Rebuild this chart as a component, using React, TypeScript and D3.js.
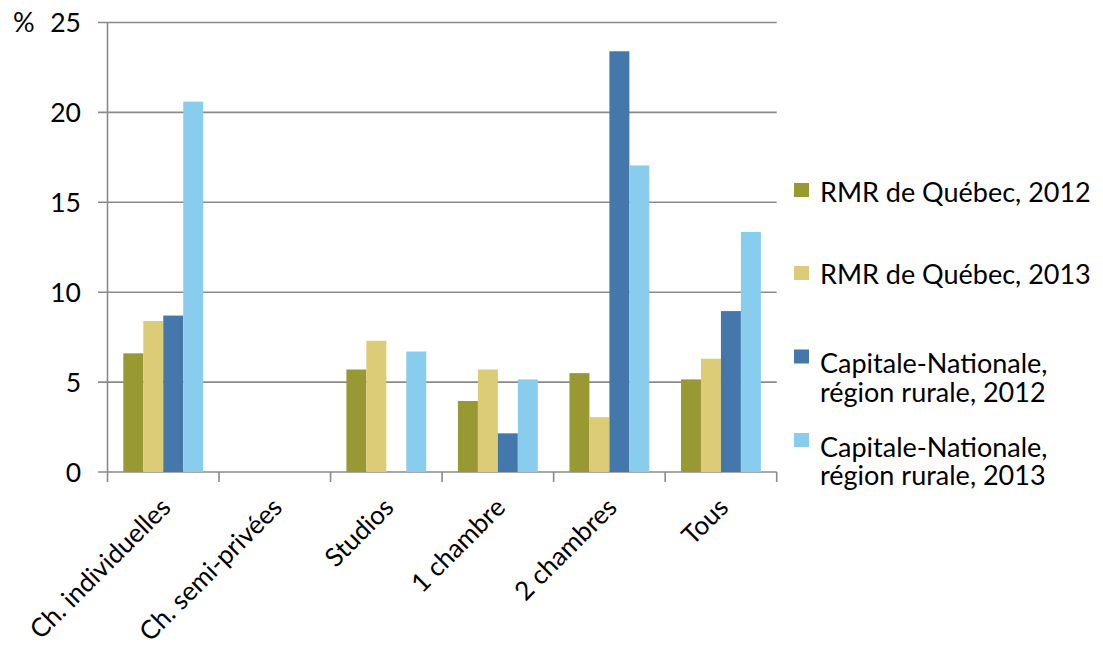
import React from "react";
import * as d3 from "d3";

const categories = ["Ch. individuelles", "Ch. semi-privées", "Studios", "1 chambre", "2 chambres", "Tous"];
const seriesNames = [
  "RMR de Québec, 2012",
  "RMR de Québec, 2013",
  "Capitale-Nationale, région rurale, 2012",
  "Capitale-Nationale, région rurale, 2013",
];
const legendLines = [
  ["RMR de Québec, 2012"],
  ["RMR de Québec, 2013"],
  ["Capitale-Nationale,", "région rurale, 2012"],
  ["Capitale-Nationale,", "région rurale, 2013"],
];
const rmr2012: (number | null)[] = [6.6, null, 5.7, 3.95, 5.5, 5.15];
const rmr2013: (number | null)[] = [8.4, null, 7.3, 5.7, 3.05, 6.3];
const cn2012: (number | null)[] = [8.7, null, null, 2.15, 23.4, 8.95];
const cn2013: (number | null)[] = [20.6, null, 6.7, 5.15, 17.05, 13.35];
const seriesValues = [rmr2012, rmr2013, cn2012, cn2013];
const colors = ["#999933", "#DDCC77", "#4477AA", "#88CCEE"];
const yTicks = [0, 5, 10, 15, 20, 25];

const FONT = "Lato, 'Open Sans', sans-serif";

export default function App() {
  const W = 1103, H = 646;
  const left = 107.5, right = 776.7, top = 22.5, bottom = 472;
  const y = d3.scaleLinear().domain([0, 25]).range([bottom, top]);
  const x0 = d3.scaleBand<string>().domain(categories).range([left, right]).padding(0);
  const bw = x0.bandwidth();
  const x1 = d3.scaleBand<number>().domain([0, 1, 2, 3]).range([bw * 0.142, bw * 0.858]).padding(0);
  const grid = "#8a8a8a";

  const legendRows = [
    { sq: 183, base: [202] },
    { sq: 266, base: [284] },
    { sq: 349.5, base: [373, 402] },
    { sq: 433, base: [457, 485] },
  ];

  return (
    <svg width={W} height={H} style={{ position: "absolute", left: 0, top: 0, background: "#fff" }} fontFamily={FONT}>
      {yTicks.map((t) => (
        <line key={"g" + t} x1={98} x2={right} y1={y(t)} y2={y(t)} stroke={grid} strokeWidth={1.6} />
      ))}
      {categories.map((c, ci) =>
        seriesValues.map((vals, si) => {
          const v = vals[ci];
          if (v == null) return null;
          const bx = (x0(c) as number) + (x1(si) as number);
          return (
            <rect key={c + si} x={bx} y={y(v)} width={x1.bandwidth()} height={y(0) - y(v)} fill={colors[si]} />
          );
        })
      )}
      <line x1={left} x2={left} y1={top} y2={bottom} stroke={grid} strokeWidth={1.6} />
      {[...categories.map((c) => x0(c) as number), right].map((tx, i) => (
        <line key={"t" + i} x1={tx} x2={tx} y1={bottom} y2={bottom + 10} stroke={grid} strokeWidth={1.6} />
      ))}
      {yTicks.map((t) => (
        <text key={"yl" + t} x={81} y={y(t) + 9.5} textAnchor="end" fontSize={26.5} fill="#000">
          {t}
        </text>
      ))}
      <text x={13} y={y(25) + 9.5} fontSize={27} fill="#000">%</text>
      {categories.map((c) => {
        const cx = (x0(c) as number) + bw / 2 + 9;
        const cy = bottom + 37;
        return (
          <text key={"xl" + c} transform={`translate(${cx},${cy}) rotate(-45)`} textAnchor="end" fontSize={26} fill="#000">
            {c}
          </text>
        );
      })}
      {legendLines.map((lines, i) => (
        <g key={"lg" + i}>
          <rect x={794} y={legendRows[i].sq} width={15} height={14} fill={colors[i]} />
          {lines.map((ln, j) => (
            <text key={j} x={820} y={legendRows[i].base[j]} fontSize={27} fill="#000">
              {ln}
            </text>
          ))}
        </g>
      ))}
    </svg>
  );
}
